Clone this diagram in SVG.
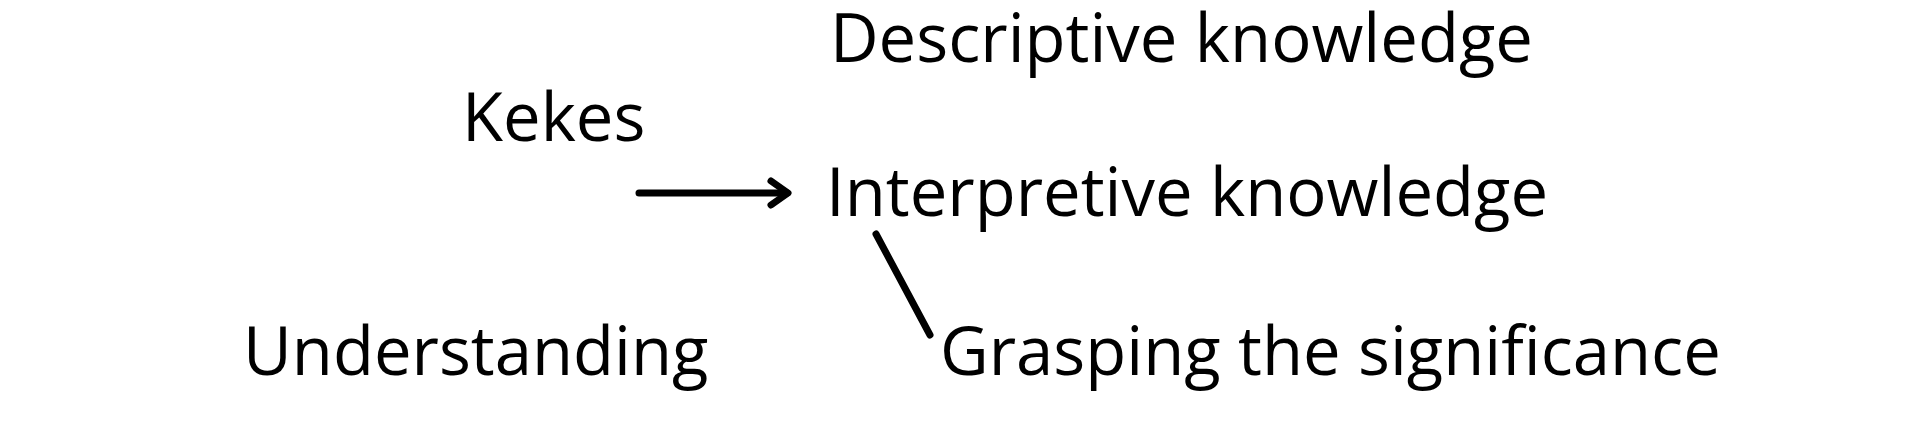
<svg xmlns="http://www.w3.org/2000/svg" width="1920" height="426" viewBox="0 0 1920 426">
<style>
text { font-family: "Open Sans", "Noto Sans", "Liberation Sans", sans-serif; font-size: 67px; fill: #000; }
.c { stroke: #000; stroke-width: 7; fill: none; stroke-linecap: round; stroke-linejoin: round; }
</style>
<rect width="1920" height="426" fill="#fff"/>
<g id="connectors">
<line class="c" x1="639" y1="193" x2="787" y2="193"/>
<polyline class="c" points="771,181 788,193 771,205"/>
<line class="c" x1="876" y1="234" x2="930" y2="335"/>
</g>
<g id="node-descriptive"><text x="830" y="62">Descriptive knowledge</text></g>
<g id="node-kekes"><text x="462" y="141">Kekes</text></g>
<g id="node-interpretive"><text x="826" y="216">Interpretive knowledge</text></g>
<g id="node-understanding"><text x="243" y="375">Understanding</text></g>
<g id="node-grasping"><text x="940" y="375">Grasping the significance</text></g>
</svg>
